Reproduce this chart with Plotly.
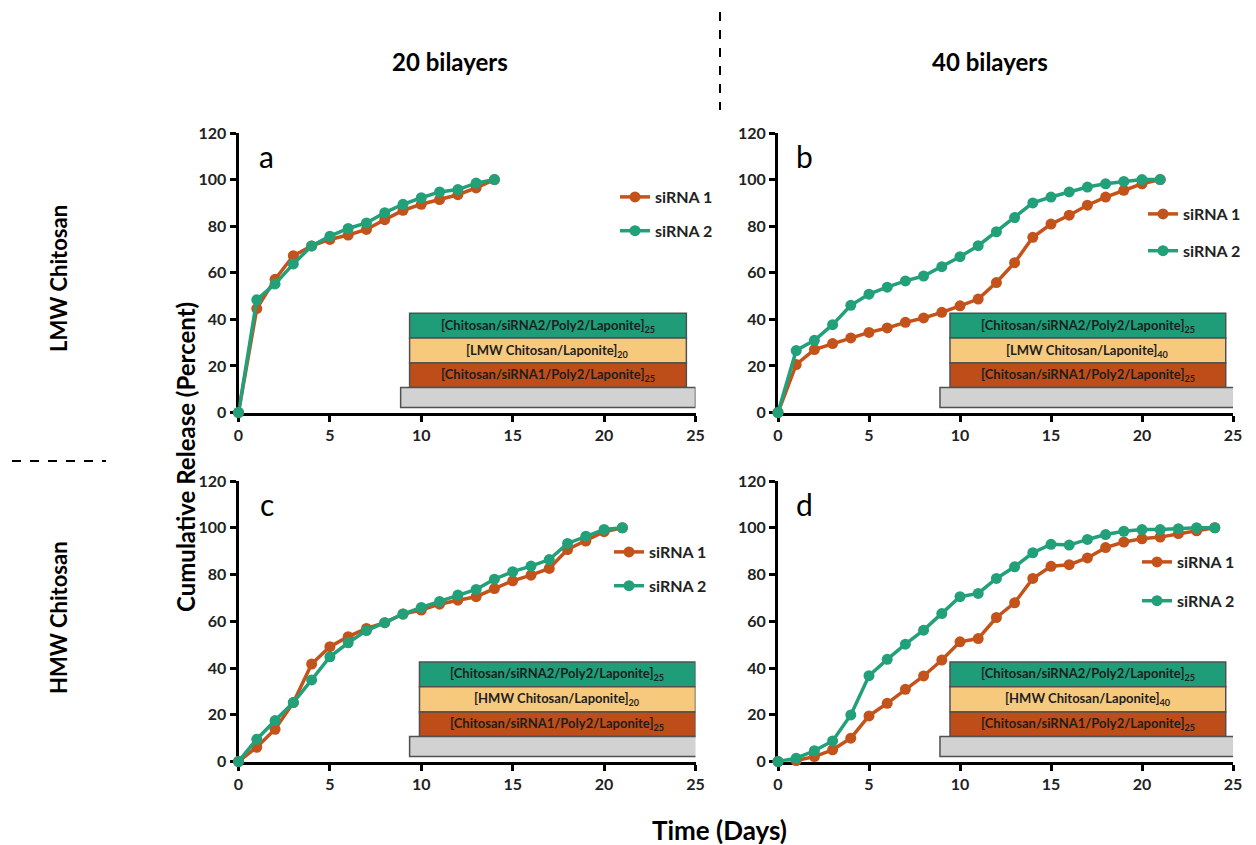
import plotly.graph_objects as go

# ---------------- data ----------------
days_a = list(range(15))
a_sirna1 = [0, 44.6, 57.2, 67.3, 71.5, 74.3, 76.2, 78.6, 82.8, 86.8, 89.4, 91.4, 93.5, 96.4, 100]
a_sirna2 = [0, 48.4, 55.2, 63.8, 71.5, 75.7, 79.0, 81.4, 85.8, 89.4, 92.2, 94.7, 95.7, 98.5, 100]

days_b = list(range(22))
b_sirna1 = [0, 20.6, 27.0, 29.6, 32.0, 34.4, 36.3, 38.7, 40.6, 43.0, 45.8, 48.7, 55.8, 64.3,
            75.2, 80.9, 84.7, 89.0, 92.5, 95.4, 98.2, 100]
b_sirna2 = [0, 26.6, 31.0, 37.7, 46.0, 50.8, 53.8, 56.5, 58.6, 62.6, 66.9, 71.6, 77.6, 83.7,
            90.0, 92.5, 94.7, 96.8, 98.2, 99.2, 100, 100]

days_c = list(range(22))
c_sirna1 = [0, 6.1, 13.8, 25.2, 41.7, 49.1, 53.4, 56.9, 59.4, 63.1, 64.8, 67.3, 69.0, 70.5,
            74.0, 77.3, 79.7, 82.6, 90.7, 94.3, 98.3, 100]
c_sirna2 = [0, 9.5, 17.5, 25.2, 34.9, 44.8, 50.8, 56.0, 59.4, 63.1, 65.9, 68.5, 71.2, 73.6,
            78.0, 81.2, 83.6, 86.4, 93.3, 96.4, 99.3, 100]

days_d = list(range(25))
d_sirna1 = [0, 0.4, 2.1, 5.0, 10.0, 19.5, 24.9, 30.9, 36.6, 43.4, 51.2, 52.6, 61.6, 67.9,
            78.3, 83.5, 84.2, 87.1, 91.5, 93.9, 95.3, 96.0, 97.5, 98.7, 100]
d_sirna2 = [0, 1.4, 4.6, 8.8, 19.9, 36.7, 43.7, 50.2, 56.2, 63.3, 70.5, 71.9, 78.3, 83.3,
            89.3, 92.9, 92.6, 95.0, 97.1, 98.5, 99.2, 99.2, 99.6, 100, 100]

series_names = ["siRNA 1", "siRNA 2"]
panel_letters = ["a", "b", "c", "d"]
column_titles = ["20 bilayers", "40 bilayers"]
row_titles = ["LMW Chitosan", "HMW Chitosan"]
layer_top = "[Chitosan/siRNA2/Poly2/Laponite]<sub>25</sub>"
layer_bottom = "[Chitosan/siRNA1/Poly2/Laponite]<sub>25</sub>"
layer_middle = ["[LMW Chitosan/Laponite]<sub>20</sub>", "[LMW Chitosan/Laponite]<sub>40</sub>",
                "[HMW Chitosan/Laponite]<sub>20</sub>", "[HMW Chitosan/Laponite]<sub>40</sub>"]
x_ticks = [0, 5, 10, 15, 20, 25]
y_ticks = [0, 20, 40, 60, 80, 100, 120]

# ---------------- style ----------------
W, H = 1256, 845
FONT = "Lato"
ORANGE = "#c4531b"
GREEN = "#22a07a"
BOX_GREEN = "#1f9c78"
BOX_YELLOW = "#f7c97c"
BOX_ORANGE = "#bf4d19"
BOX_GRAY = "#d2d2d2"

fig = go.Figure()

panels = [
    (days_a, a_sirna1, a_sirna2),
    (days_b, b_sirna1, b_sirna2),
    (days_c, c_sirna1, c_sirna2),
    (days_d, d_sirna1, d_sirna2),
]

def px_x(p):
    return p / W

def px_y(p):
    return 1 - p / H

xdomains = [[px_x(238.5), px_x(695.5)], [px_x(778), px_x(1233)]]
ydomains = [[px_y(412.5), px_y(133)], [px_y(761.5), px_y(481)]]

# legend top-left corners (px)
legend_pos = [(615, 180), (1143, 197), (609, 535), (1137, 545)]
legend_gap = [10, 13, 10, 15]
letter_x = [0.062, 0.058, 0.062, 0.058]

for i, (dx, s1, s2) in enumerate(panels):
    sfx = "" if i == 0 else str(i + 1)
    xa, ya = "x" + sfx, "y" + sfx
    leg = "legend" + sfx
    for j, (vals, col) in enumerate([(s1, ORANGE), (s2, GREEN)]):
        fig.add_trace(go.Scatter(
            x=dx, y=vals, mode="lines+markers", name=series_names[j],
            line=dict(color=col, width=3.5),
            marker=dict(color=col, size=11),
            xaxis=xa, yaxis=ya, cliponaxis=False,
            legend=leg, legendgroup=f"g{i}{j}", showlegend=True,
        ))
    col_i = i % 2
    row_i = i // 2
    axis_common = dict(showgrid=False, zeroline=False, showline=True,
                       linecolor="black", linewidth=3, ticks="outside",
                       ticklen=6, tickwidth=3, tickcolor="black",
                       tickfont=dict(family=FONT, size=16, color="#222", weight="bold"),
                       layer="below traces", automargin=False)
    fig.update_layout(**{
        "xaxis" + sfx: dict(domain=xdomains[col_i], range=[0, 25], tickvals=x_ticks,
                            anchor=ya, **axis_common),
        "yaxis" + sfx: dict(domain=ydomains[row_i], range=[0, 120], tickvals=y_ticks,
                            anchor=xa, **axis_common),
        leg: dict(x=px_x(legend_pos[i][0]), y=px_y(legend_pos[i][1]),
                  xanchor="left", yanchor="top", bgcolor="rgba(0,0,0,0)",
                  font=dict(family=FONT, size=16, color="#222", weight="bold"),
                  tracegroupgap=legend_gap[i], itemwidth=30),
    })

    # layer stack diagram
    if col_i == 0 and row_i == 0:
        x0, x1, g0, g1 = 9.36, 24.5, 8.87, 25.0
    elif col_i == 0:
        x0, x1, g0, g1 = 9.9, 25.0, 9.36, 25.5
    else:
        x0, x1, g0, g1 = 9.45, 24.6, 8.9, 25.1
    ys = [42.6, 32.0, 21.2, 10.7, 2.1]
    fills = [BOX_GREEN, BOX_YELLOW, BOX_ORANGE]
    texts = [layer_top, layer_middle[i], layer_bottom]
    for k in range(3):
        fig.add_shape(type="rect", xref=xa, yref=ya, x0=x0, x1=x1, y0=ys[k + 1], y1=ys[k],
                      fillcolor=fills[k], line=dict(color="#505050", width=1.5), layer="above")
        fig.add_annotation(xref=xa, yref=ya, x=(x0 + x1) / 2, y=(ys[k] + ys[k + 1]) / 2,
                           text=texts[k], showarrow=False, xanchor="center", yanchor="middle",
                           font=dict(family=FONT, size=13, color="#1e1e1e", weight="bold"))
    fig.add_shape(type="rect", xref=xa, yref=ya, x0=g0, x1=g1, y0=ys[4], y1=ys[3],
                  fillcolor=BOX_GRAY, line=dict(color="#505050", width=1.5), layer="above")

    # panel letter
    fig.add_annotation(xref=xa + " domain", yref=ya + " domain", x=letter_x[i], y=0.918,
                       text=panel_letters[i], showarrow=False, xanchor="center", yanchor="middle",
                       font=dict(family=FONT, size=30, color="black"))

# column and row titles
for k, cx in enumerate([450, 990]):
    fig.add_annotation(xref="paper", yref="paper", x=px_x(cx), y=px_y(62),
                       text=column_titles[k], showarrow=False, xanchor="center", yanchor="middle",
                       font=dict(family=FONT, size=24, color="black", weight="bold"))
for k, cy in enumerate([278, 617]):
    fig.add_annotation(xref="paper", yref="paper", x=px_x(58), y=px_y(cy),
                       text=row_titles[k], showarrow=False, textangle=-90,
                       xanchor="center", yanchor="middle",
                       font=dict(family=FONT, size=22, color="black", weight="bold"))
fig.add_annotation(xref="paper", yref="paper", x=px_x(185), y=px_y(457),
                   text="Cumulative Release (Percent)", showarrow=False, textangle=-90,
                   xanchor="center", yanchor="middle",
                   font=dict(family=FONT, size=24, color="black", weight="bold"))
fig.add_annotation(xref="paper", yref="paper", x=px_x(719), y=px_y(830),
                   text="Time (Days)", showarrow=False, xanchor="center", yanchor="middle",
                   font=dict(family=FONT, size=26, color="black", weight="bold"))

# dashed separators
fig.add_shape(type="line", xref="paper", yref="paper", x0=px_x(720), x1=px_x(720),
              y0=px_y(12), y1=px_y(110), line=dict(color="black", width=2, dash="dash"))
fig.add_shape(type="line", xref="paper", yref="paper", x0=px_x(12), x1=px_x(106),
              y0=px_y(461), y1=px_y(461), line=dict(color="black", width=2, dash="dash"))

fig.update_layout(width=W, height=H,
                  margin=dict(l=0, r=0, t=0, b=0, pad=0, autoexpand=False),
                  plot_bgcolor="white", paper_bgcolor="white", showlegend=True,
                  font=dict(family=FONT))

fig.write_html("out.html")
